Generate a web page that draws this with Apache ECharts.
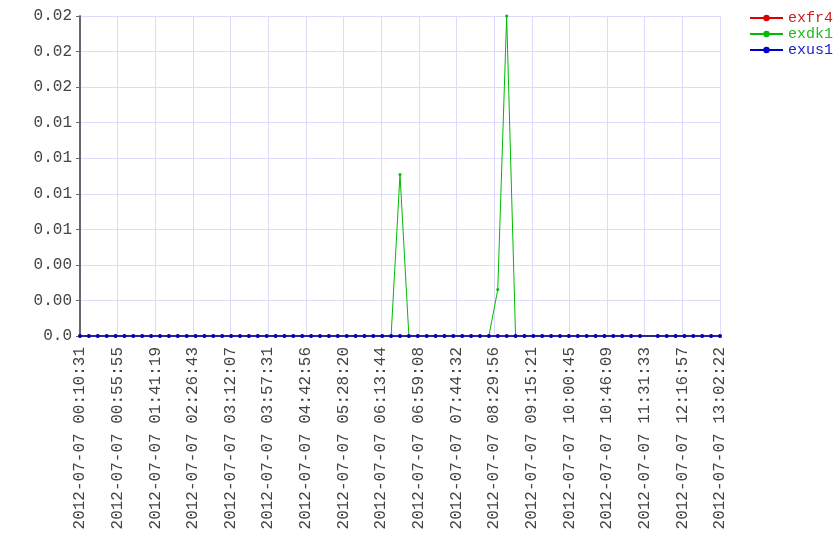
<!DOCTYPE html>
<html>
<head>
<meta charset="utf-8">
<script src="https://cdn.jsdelivr.net/npm/echarts@6/dist/echarts.min.js"></script>
<style>
  html, body { margin: 0; padding: 0; background: #fff; }
</style>
</head>
<body>
<div id="myChart" style="width:840px;height:560px;"></div>
<script>
// sample times (one slot around 11:36 has no sample)
var times = [
  '00:10:31','00:21:14','00:31:57','00:42:41','00:53:24','01:04:07','01:14:50','01:25:33',
  '01:36:17','01:47:00','01:57:43','02:08:26','02:19:09','02:29:53','02:40:36','02:51:19',
  '03:02:02','03:12:45','03:23:29','03:34:12','03:44:55','03:55:38','04:06:21','04:17:05',
  '04:27:48','04:38:31','04:49:14','04:59:57','05:10:41','05:21:24','05:32:07','05:42:50',
  '05:53:33','06:04:17','06:15:00','06:25:43','06:36:26','06:47:09','06:57:53','07:08:36',
  '07:19:19','07:30:02','07:40:45','07:51:29','08:02:12','08:12:55','08:23:38','08:34:21',
  '08:45:05','08:55:48','09:06:31','09:17:14','09:27:57','09:38:41','09:49:24','10:00:07',
  '10:10:50','10:21:33','10:32:17','10:43:00','10:53:43','11:04:26','11:15:09','11:25:53',
  '11:47:19','11:58:02','12:08:45','12:19:29','12:30:12','12:40:55','12:51:38','13:02:22'
];
var day = '2012-07-07';
var axisStart = '00:10:31';
var axisEnd = '13:02:22';
var tickCount = 17;

var exfr4 = [
  0,0,0,0,0,0,0,0, 0,0,0,0,0,0,0,0, 0,0,0,0,0,0,0,0, 0,0,0,0,0,0,0,0,
  0,0,0,0,0,0,0,0, 0,0,0,0,0,0,0,0, 0,0,0,0,0,0,0,0, 0,0,0,0,0,0,0,0,
  0,0,0,0,0,0,0,0
];
var exdk1 = [
  0,0,0,0,0,0,0,0, 0,0,0,0,0,0,0,0, 0,0,0,0,0,0,0,0, 0,0,0,0,0,0,0,0,
  0,0,0,0,0.0101,0,0,0, 0,0,0,0,0,0,0,0.0029, 0.02,0,0,0,0,0,0,0, 0,0,0,0,0,0,0,0,
  0,0,0,0,0,0,0,0
];
var exus1 = [
  0,0,0,0,0,0,0,0, 0,0,0,0,0,0,0,0, 0,0,0,0,0,0,0,0, 0,0,0,0,0,0,0,0,
  0,0,0,0,0,0,0,0, 0,0,0,0,0,0,0,0, 0,0,0,0,0,0,0,0, 0,0,0,0,0,0,0,0,
  0,0,0,0,0,0,0,0
];
var yMax = 0.02;
var ySteps = 9;

function toSec(t) {
  var p = t.split(':');
  return (+p[0]) * 3600 + (+p[1]) * 60 + (+p[2]);
}
function pad(n) { return (n < 10 ? '0' : '') + n; }
var t0 = toSec(axisStart);
var span = toSec(axisEnd) - t0;

function pairs(vals) {
  return times.map(function (t, i) { return [toSec(t) - t0, vals[i]]; });
}

var font = 'Liberation Mono, Courier New, monospace';
var chart = echarts.init(document.getElementById('myChart'));
chart.setOption({
  animation: false,
  grid: { left: 80, right: 120, top: 16, bottom: 224, containLabel: false },
  legend: {
    orient: 'vertical',
    right: 2,
    top: 5,
    itemWidth: 33,
    itemHeight: 8,
    itemGap: 0,
    textStyle: { fontFamily: font, fontSize: 15, lineHeight: 16 },
    data: [
      { name: 'exfr4', textStyle: { color: '#cc2222' } },
      { name: 'exdk1', textStyle: { color: '#22bb22' } },
      { name: 'exus1', textStyle: { color: '#2222cc' } }
    ]
  },
  xAxis: {
    type: 'value',
    min: 0,
    max: span,
    interval: span / tickCount,
    axisLine: { lineStyle: { color: '#555', width: 1 } },
    axisTick: { show: false },
    splitLine: { show: true, lineStyle: { color: '#dcdcfa' } },
    axisLabel: {
      rotate: 90,
      margin: 11,
      color: '#444',
      fontFamily: font,
      fontSize: 16,
      formatter: function (v) {
        var s = Math.floor(t0 + v + 1e-6);
        return day + ' ' + pad(Math.floor(s / 3600)) + ':' + pad(Math.floor(s % 3600 / 60)) + ':' + pad(s % 60);
      }
    }
  },
  yAxis: {
    type: 'value',
    min: 0,
    max: yMax,
    interval: yMax / ySteps,
    axisLine: { show: true, lineStyle: { color: '#666670', width: 2 } },
    axisTick: { show: true, length: 4, lineStyle: { color: '#666670' } },
    splitLine: { show: true, lineStyle: { color: '#dcdcfa' } },
    axisLabel: {
      margin: 8,
      color: '#444',
      fontFamily: font,
      fontSize: 16,
      formatter: function (v) { return v === 0 ? '0.0' : v.toFixed(2); }
    }
  },
  series: [
    { name: 'exfr4', type: 'line', data: pairs(exfr4), color: '#dd0000',
      symbol: 'circle', symbolSize: 3, showAllSymbol: true, lineStyle: { width: 1 } },
    { name: 'exdk1', type: 'line', data: pairs(exdk1), color: '#00bb00',
      symbol: 'circle', symbolSize: 3, showAllSymbol: true, lineStyle: { width: 1 } },
    { name: 'exus1', type: 'line', data: pairs(exus1), color: '#0000cc',
      symbol: 'circle', symbolSize: 4, showAllSymbol: true, lineStyle: { width: 1.5 } }
  ]
});
</script>
</body>
</html>
